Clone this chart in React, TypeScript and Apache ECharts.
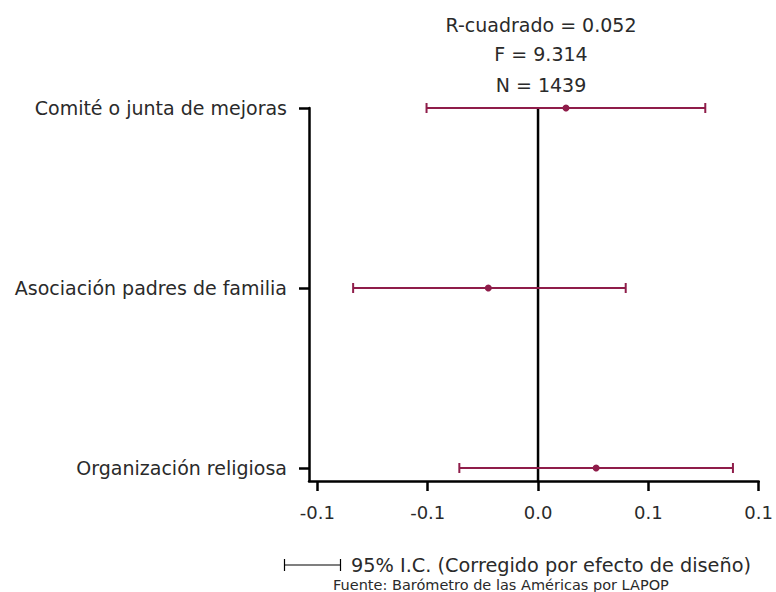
import React, { useEffect, useRef } from "react";
import * as echarts from "echarts";

const categories = ["Organización religiosa", "Asociación padres de familia", "Comité o junta de mejoras"];
const pointValues = [0.0395, -0.0338, 0.0190];
const lowerValues = [-0.0535, -0.1257, -0.0758];
const upperValues = [0.1325, 0.0596, 0.1137];
const xTicks = [-0.15, -0.075, 0, 0.075, 0.15];
const statLines = ["R-cuadrado = 0.052", "F = 9.314", "N = 1439"];
const legendText = "95% I.C. (Corregido por efecto de diseño)";
const sourceText = "Fuente: Barómetro de las Américas por LAPOP";

const COLOR = "#8f1d4a";
const FONT = "'DejaVu Sans', sans-serif";
const TXT = "#2a2a2a";

export default function App() {
  const ref = useRef<HTMLDivElement>(null);
  useEffect(() => {
    document.body.style.margin = "0";
    const chart = echarts.init(ref.current!, null, { renderer: "svg" });
    const yMin = -0.0722;
    const yMax = categories.length - 1;
    const data = categories.map((_, i) => [i, lowerValues[i], upperValues[i], pointValues[i]]);
    chart.setOption({
      animation: false,
      grid: { left: 309, right: 16, top: 108, bottom: 111, containLabel: false },
      xAxis: {
        type: "value",
        min: -0.1557,
        max: 0.15,
        splitLine: { show: false },
        axisLine: { show: true, onZero: false, lineStyle: { color: "#000", width: 2.5 } },
        axisTick: { show: true, length: 10, lineStyle: { color: "#000", width: 2.5 }, customValues: xTicks },
        axisLabel: {
          customValues: xTicks,
          margin: 22,
          fontSize: 18,
          fontFamily: FONT,
          color: TXT,
          formatter: (v: number) => v.toFixed(1),
        },
      },
      yAxis: {
        type: "value",
        min: yMin,
        max: yMax,
        splitLine: { show: false },
        axisLine: { show: true, onZero: false, lineStyle: { color: "#000", width: 2.5 } },
        axisTick: { show: true, length: 10, lineStyle: { color: "#000", width: 2.5 }, customValues: [0, 1, 2] },
        axisLabel: {
          customValues: [0, 1, 2],
          margin: 22,
          fontSize: 19,
          fontFamily: FONT,
          color: TXT,
          formatter: (v: number) => categories[Math.round(v)] ?? "",
        },
      },
      series: [
        {
          type: "line",
          data: [[0, yMin], [0, yMax]],
          symbol: "none",
          lineStyle: { color: "#000", width: 2.5 },
          z: 1,
          silent: true,
        },
        {
          type: "custom",
          z: 5,
          data,
          renderItem: (params: any, api: any) => {
            const y = api.value(0);
            const lo = api.coord([api.value(1), y]);
            const hi = api.coord([api.value(2), y]);
            const pt = api.coord([api.value(3), y]);
            const ls = { stroke: COLOR, lineWidth: 2 };
            return {
              type: "group",
              children: [
                { type: "line", shape: { x1: lo[0], y1: lo[1], x2: hi[0], y2: hi[1] }, style: ls },
                { type: "line", shape: { x1: lo[0], y1: lo[1] - 5, x2: lo[0], y2: lo[1] + 5 }, style: ls },
                { type: "line", shape: { x1: hi[0], y1: hi[1] - 5, x2: hi[0], y2: hi[1] + 5 }, style: ls },
                { type: "circle", shape: { cx: pt[0], cy: pt[1], r: 3.5 }, style: { fill: COLOR } },
              ],
            };
          },
        },
      ],
      graphic: [
        ...statLines.map((t, i) => ({
          type: "text",
          x: 541,
          y: [25, 54, 85][i],
          style: { text: t, fontSize: 19, fontFamily: FONT, fill: TXT, textAlign: "center", textVerticalAlign: "middle" },
        })),
        { type: "line", shape: { x1: 284, y1: 565, x2: 341, y2: 565 }, style: { stroke: "#000", lineWidth: 1.2 } },
        { type: "line", shape: { x1: 284.5, y1: 559, x2: 284.5, y2: 571 }, style: { stroke: "#000", lineWidth: 1.2 } },
        { type: "line", shape: { x1: 340.5, y1: 559, x2: 340.5, y2: 571 }, style: { stroke: "#000", lineWidth: 1.2 } },
        {
          type: "text",
          x: 351,
          y: 565,
          style: { text: legendText, fontSize: 19.3, fontFamily: FONT, fill: TXT, textAlign: "left", textVerticalAlign: "middle" },
        },
        {
          type: "text",
          x: 333,
          y: 585,
          style: { text: sourceText, fontSize: 14.5, fontFamily: FONT, fill: TXT, textAlign: "left", textVerticalAlign: "middle" },
        },
      ],
    });
    return () => chart.dispose();
  }, []);
  return <div ref={ref} style={{ width: 776, height: 592 }} />;
}
